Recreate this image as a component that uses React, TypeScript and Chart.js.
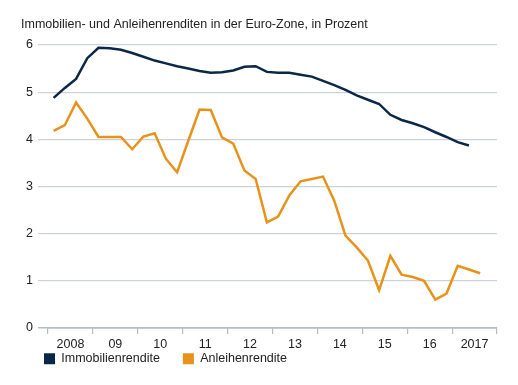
import React, { useEffect, useRef } from "react";
import { Chart, registerables } from "chart.js";

Chart.register(...registerables);

const yearLabels = ["2008", "09", "10", "11", "12", "13", "14", "15", "16", "2017"];

// quarterly values, starting Q1 2008
const immobilienrendite = [
  4.88, 5.09, 5.28, 5.72, 5.94, 5.93, 5.9, 5.83, 5.75, 5.67,
  5.61, 5.55, 5.5, 5.45, 5.41, 5.42, 5.46, 5.54, 5.55, 5.43,
  5.41, 5.41, 5.37, 5.33, 5.24, 5.15, 5.05, 4.93, 4.84, 4.75,
  4.52, 4.41, 4.34, 4.26, 4.15, 4.05, 3.94, 3.87,
];

const anleihenrendite = [
  4.18, 4.3, 4.78, 4.44, 4.05, 4.05, 4.05, 3.79, 4.06, 4.13,
  3.59, 3.3, 3.97, 4.63, 4.62, 4.04, 3.91, 3.34, 3.16, 2.24,
  2.36, 2.81, 3.11, 3.16, 3.21, 2.7, 1.96, 1.71, 1.43, 0.8,
  1.53, 1.13, 1.08, 1.0, 0.6, 0.73, 1.32, 1.24, 1.16,
];

const yTicks = [0, 1, 2, 3, 4, 5, 6];

const NAVY = "#0b2747";
const ORANGE = "#e6921b";
const FONT = "'Liberation Sans', Arial, sans-serif";

const legendShift = {
  id: "legendShift",
  afterLayout(chart: any) {
    const lg = chart.legend;
    if (!lg) return;
    const targetTop = 329.5;
    const d = lg.top - targetTop;
    lg.top -= d;
    lg.bottom -= d;
    if (lg.legendHitBoxes) lg.legendHitBoxes.forEach((h: any) => (h.top -= d));
  },
};

export default function App() {
  const ref = useRef<HTMLCanvasElement | null>(null);

  useEffect(() => {
    const canvas = ref.current;
    if (!canvas) return;
    const toPts = (arr: number[]) => arr.map((v, i) => ({ x: i + 0.5, y: v }));
    const chart = new Chart(canvas, {
      type: "line",
      data: {
        datasets: [
          {
            label: "Immobilienrendite",
            data: toPts(immobilienrendite),
            borderColor: NAVY,
            backgroundColor: NAVY,
            borderWidth: 2.5,
            pointRadius: 0,
            tension: 0,
          },
          {
            label: "Anleihenrendite",
            data: toPts(anleihenrendite),
            borderColor: ORANGE,
            backgroundColor: ORANGE,
            borderWidth: 2.5,
            pointRadius: 0,
            tension: 0,
          },
        ],
      },
      plugins: [legendShift],
      options: {
        animation: false,
        responsive: false,
        maintainAspectRatio: false,
        layout: { padding: { left: 21, right: 21, top: 17.5, bottom: -15.5 } },
        plugins: {
          tooltip: { enabled: false },
          title: {
            display: true,
            text: "Immobilien- und Anleihenrenditen in der Euro-Zone, in Prozent",
            align: "start",
            color: "#222",
            font: { family: FONT, size: 12.5, weight: "normal" },
            padding: { top: 0, bottom: 12.5 },
          },
          legend: {
            position: "bottom",
            align: "start",
            labels: {
              color: "#222",
              font: { family: FONT, size: 12.5 },
              boxWidth: 11,
              boxHeight: 11,
              padding: 23,
              generateLabels: (c: any) =>
                Chart.defaults.plugins.legend.labels
                  .generateLabels(c)
                  .map((l: any) => ({ ...l, lineWidth: 0 })),
            },
          },
        },
        scales: {
          x: {
            type: "linear",
            min: 0,
            max: 40,
            afterBuildTicks: (s: any) => {
              const t = [];
              for (let v = 0; v <= 40; v += 2) t.push({ value: v });
              s.ticks = t;
            },
            ticks: {
              autoSkip: false,
              maxRotation: 0,
              padding: 3,
              color: "#222",
              font: { family: FONT, size: 12.5 },
              callback: (v: any) => (v % 4 === 2 ? yearLabels[(v - 2) / 4] : ""),
            },
            grid: {
              drawOnChartArea: false,
              drawTicks: true,
              tickLength: 6,
              tickColor: (ctx: any) =>
                ctx.tick && ctx.tick.value % 4 === 0 ? "#b4bcc5" : "rgba(0,0,0,0)",
              color: (ctx: any) =>
                ctx.tick && ctx.tick.value % 4 === 0 ? "#b4bcc5" : "rgba(0,0,0,0)",
              lineWidth: 1.2,
            },
            border: { display: true, color: "#b4bcc5", width: 1.5 },
          },
          y: {
            min: 0,
            max: 6,
            afterBuildTicks: (s: any) => {
              s.ticks = yTicks.map((v) => ({ value: v }));
            },
            afterFit: (s: any) => {
              s.width = 27;
            },
            ticks: {
              padding: 5,
              color: "#222",
              font: { family: FONT, size: 12.5 },
            },
            grid: {
              color: (ctx: any) => (ctx.tick && ctx.tick.value === 0 ? "#b4bcc5" : "#cdd2d8"),
              lineWidth: (ctx: any) => (ctx.tick && ctx.tick.value === 0 ? 1.5 : 1.2),
              tickLength: 10,
              drawTicks: true,
            },
            border: { display: false },
          },
        },
      },
    } as any);
    return () => chart.destroy();
  }, []);

  return (
    <div style={{ position: "fixed", left: 0, top: 0, width: 518, height: 385, background: "#fff" }}>
      <canvas ref={ref} width={518} height={385} style={{ width: 518, height: 385, display: "block" }} />
    </div>
  );
}
